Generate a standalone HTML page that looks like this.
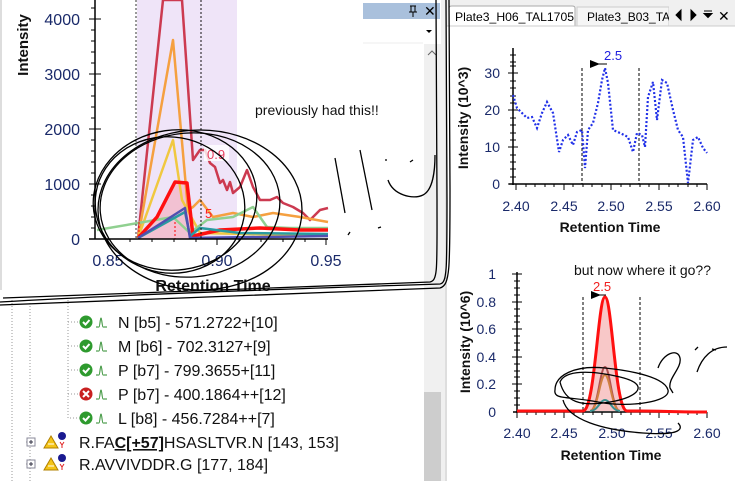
<!DOCTYPE html>
<html><head><meta charset="utf-8"><style>
html,body{margin:0;padding:0;background:#fff;}
svg{display:block;font-family:"Liberation Sans",Arial,sans-serif;}
</style></head><body>
<svg width="735" height="481" viewBox="0 0 735 481" xmlns="http://www.w3.org/2000/svg">
<rect width="735" height="481" fill="#fff"/>
<!-- left panel -->
<line x1="1" y1="0" x2="1" y2="290" stroke="#bbb"/>
<rect x="137" y="0" width="100" height="239" fill="#efe4f8"/>
<polygon points="139,239 157,217 175,182 187,183 193,239" fill="#f2b8c8" opacity="0.8"/>
<g fill="none" stroke-linejoin="round">
<polyline stroke="#cc3a50" stroke-width="2.5" points="138,238 163,0 182,0 193,160 200,150 205,150 210,163 215,167 220,183 223,180 227,190 230,182 233,193 240,187 247,170 253,187 260,200 270,200 277,197 283,203 293,207 303,213 310,220 320,210 328,208"/>
<polyline stroke="#f5a040" stroke-width="2.5" points="138,238 173,40 188,210 193,207 200,200 213,217 233,213 253,217 273,213 300,217 328,222"/>
<polyline stroke="#f0c840" stroke-width="2.5" points="138,238 173,140 182,200 200,233 328,236"/>
<polyline stroke="#90d090" stroke-width="2.5" points="97,230 138,223 173,217 190,233 207,220 233,217 253,207 267,227 290,228 328,228"/>
<polyline stroke="#ff1010" stroke-width="3.5" points="138,238 157,217 175,182 187,183 193,236 220,230 260,228 300,230 328,230"/>
<polyline stroke="#2a9aa0" stroke-width="2.5" points="138,238 185,212 190,236 200,228 240,233 328,234"/>
<polyline stroke="#5050b0" stroke-width="2.5" points="138,238 185,208 190,238 328,236"/>
</g>
<line x1="136" y1="0" x2="136" y2="239" stroke="#333" stroke-dasharray="2,2"/>
<line x1="201" y1="0" x2="201" y2="239" stroke="#111" stroke-dasharray="2,2"/>
<line x1="175" y1="222" x2="175" y2="239" stroke="#f00" stroke-dasharray="2,2"/>
<line x1="139" y1="222" x2="139" y2="239" stroke="#f00" stroke-dasharray="2,2"/>
<rect x="204" y="145" width="25" height="16" fill="#fff" opacity="0.8"/>
<text x="207" y="159" font-size="13" fill="#e84060">0.9</text>
<text x="205" y="218" font-size="13" fill="#ff2020">5</text>
<line x1="95" y1="0" x2="95" y2="239" stroke="#000" stroke-width="1.5"/>
<line x1="89" y1="239" x2="328" y2="239" stroke="#000" stroke-width="1.5"/>
<g stroke="#000">
<path d="M89 19h12M89 74h12M89 129h12M89 184h12M91 30h4M91 41h4M91 52h4M91 63h4M91 85h4M91 96h4M91 107h4M91 118h4M91 140h4M91 151h4M91 162h4M91 173h4M91 195h4M91 206h4M91 217h4M91 228h4M91 8h4"/>
<path d="M108 239v6M217 239v6M326 239v6M130 239v3M152 239v3M174 239v3M196 239v3M239 239v3M261 239v3M283 239v3M305 239v3"/>
</g>
<g font-size="16" fill="#1a2a6a" text-anchor="end">
<text x="80" y="25">4000</text><text x="80" y="80">3000</text><text x="80" y="135">2000</text><text x="80" y="190">1000</text><text x="80" y="245">0</text>
</g>
<g font-size="16" fill="#1a2a6a" text-anchor="middle">
<text x="108" y="266">0.85</text><text x="217" y="266">0.90</text><text x="326" y="266">0.95</text>
</g>
<text x="213" y="291" font-size="16" font-weight="bold" text-anchor="middle" fill="#111">Retention Time</text>
<text transform="translate(28,45) rotate(-90)" font-size="15" font-weight="bold" text-anchor="middle" fill="#111">Intensity</text>
<text x="255" y="115" font-size="14" fill="#111">previously had this!!</text>
<!-- docked header -->
<rect x="363" y="3" width="77" height="16" fill="#a9c0dc"/>
<path d="M410 6h6M411 6v6M415 6v6M409 12h8M413 12v5" stroke="#000" fill="none"/>
<text x="424" y="16" font-size="14" fill="#000">✕</text>
<path d="M426 30h6l-3 3z" fill="#000"/>
<line x1="363" y1="43" x2="423" y2="43" stroke="#eee"/>
<rect x="424" y="44" width="17" height="437" fill="#f0f0f0"/>
<path d="M428 55l4-4 4 4" stroke="#666" fill="none"/>
<rect x="424" y="392" width="17" height="89" fill="#cdcdcd"/>
<!-- tree -->
<g stroke="#999" stroke-dasharray="1,2" fill="none">
<path d="M12 300V481M30 300V481M68 300V418H80M68 322H80M68 346H80M68 370H80M68 394H80M30 442H26M30 464H26"/>
</g>
<g font-size="16" fill="#111">
<g>
<circle cx="86" cy="322" r="6.5" fill="#2e9a2e"/><path d="M83 322l2.5 2.5 4-4.5" stroke="#fff" stroke-width="2" fill="none"/>
<path d="M96 327h3c1 0 1-9 2-9s1 9 2 9h4" stroke="#2a8a2a" fill="none"/>
<text x="118" y="328">N [b5] - 571.2722+[10]</text>
</g>
<g>
<circle cx="86" cy="346" r="6.5" fill="#2e9a2e"/><path d="M83 346l2.5 2.5 4-4.5" stroke="#fff" stroke-width="2" fill="none"/>
<path d="M96 351h3c1 0 1-9 2-9s1 9 2 9h4" stroke="#2a8a2a" fill="none"/>
<text x="118" y="352">M [b6] - 702.3127+[9]</text>
</g>
<g>
<circle cx="86" cy="370" r="6.5" fill="#2e9a2e"/><path d="M83 370l2.5 2.5 4-4.5" stroke="#fff" stroke-width="2" fill="none"/>
<path d="M96 375h3c1 0 1-9 2-9s1 9 2 9h4" stroke="#2a8a2a" fill="none"/>
<text x="118" y="376">P [b7] - 799.3655+[11]</text>
</g>
<g>
<circle cx="86" cy="394" r="6.5" fill="#c82020"/><path d="M83 391l6 6M89 391l-6 6" stroke="#fff" stroke-width="2"/>
<path d="M96 399h3c1 0 1-9 2-9s1 9 2 9h4" stroke="#2a8a2a" fill="none"/>
<text x="118" y="400">P [b7] - 400.1864++[12]</text>
</g>
<g>
<circle cx="86" cy="418" r="6.5" fill="#2e9a2e"/><path d="M83 418l2.5 2.5 4-4.5" stroke="#fff" stroke-width="2" fill="none"/>
<path d="M96 423h3c1 0 1-9 2-9s1 9 2 9h4" stroke="#2a8a2a" fill="none"/>
<text x="118" y="424">L [b8] - 456.7284++[7]</text>
</g>
<g>
<rect x="27" y="438" width="8" height="8" fill="#fff" stroke="#889"/><path d="M29 442h4M31 440v4" stroke="#334"/>
<path d="M44 448l7-12 7 12z" fill="#f5c518" stroke="#b08000"/><path d="M48 444h6" stroke="#fff"/>
<circle cx="62" cy="436" r="4" fill="#1a1a90"/><path d="M60 442l2 3 2-3M62 445v3" stroke="#e02020" fill="none"/>
<text x="79" y="448">R.FA<tspan font-weight="bold" text-decoration="underline">C[+57]</tspan>HSASLTVR.N [143, 153]</text>
</g>
<g>
<rect x="27" y="460" width="8" height="8" fill="#fff" stroke="#889"/><path d="M29 464h4M31 462v4" stroke="#334"/>
<path d="M44 470l7-12 7 12z" fill="#f5c518" stroke="#b08000"/><path d="M48 466h6" stroke="#fff"/>
<circle cx="62" cy="458" r="4" fill="#1a1a90"/><path d="M60 464l2 3 2-3M62 467v3" stroke="#e02020" fill="none"/>
<text x="79" y="470">R.AVVIVDDR.G [177, 184]</text>
</g>
</g>
<!-- splitter -->
<rect x="441" y="0" width="6" height="481" fill="#f0f0f0"/>
<line x1="446" y1="0" x2="446" y2="481" stroke="#ccc"/>
<!-- right tabs -->
<rect x="447" y="0" width="288" height="26" fill="#f0f0f0"/>
<path d="M449 26V8q0-2 3-2h120q3 0 3 2V26" fill="#fff" stroke="#aaa"/>
<text x="455" y="21" font-size="12" fill="#000" textLength="119" lengthAdjust="spacingAndGlyphs">Plate3_H06_TAL1705</text>
<rect x="577" y="7" width="92" height="19" fill="#f5f5f5" stroke="#ccc"/>
<text x="587" y="21" font-size="12" fill="#000">Plate3_B03_TAL1</text>
<rect x="669" y="5" width="66" height="21" fill="#f0f0f0"/>
<path d="M681 10l-5 5 5 5zM691 10l5 5-5 5zM704 11h8M704 13.5l4 4 4-4z" fill="#000" stroke="#000" stroke-width="1"/>
<text x="718" y="21" font-size="14">✕</text>
<line x1="447" y1="26" x2="735" y2="26" stroke="#ccc"/>
<!-- top right chart -->
<line x1="513" y1="48" x2="513" y2="185" stroke="#000" stroke-width="1.5"/>
<line x1="509" y1="184" x2="707" y2="184" stroke="#000" stroke-width="1.5"/>
<g stroke="#000">
<path d="M508 73h10M508 110h10M508 147h10M508 184h10M510 55h6M510 62h6M510 66h6M510 81h6M510 88h6M510 96h6M510 103h6M510 118h6M510 125h6M510 133h6M510 140h6M510 155h6M510 162h6M510 169h6M510 177h6"/>
<path d="M516 184v6M564 184v6M611 184v6M659 184v6M707 184v6M526 184v3M535 184v3M545 184v3M554 184v3M573 184v3M583 184v3M592 184v3M602 184v3M621 184v3M630 184v3M640 184v3M649 184v3M669 184v3M678 184v3M688 184v3M697 184v3"/>
</g>
<g font-size="14" fill="#1a2a6a" text-anchor="end">
<text x="500" y="78">30</text><text x="500" y="115">20</text><text x="500" y="152">10</text><text x="500" y="189">0</text>
</g>
<g font-size="14" fill="#1a2a6a" text-anchor="middle">
<text x="516" y="211">2.40</text><text x="564" y="211">2.45</text><text x="611" y="211">2.50</text><text x="659" y="211">2.55</text><text x="707" y="211">2.60</text>
</g>
<text x="610" y="232" font-size="14" font-weight="bold" text-anchor="middle" fill="#111">Retention Time</text>
<text transform="translate(468,118) rotate(-90)" font-size="14" font-weight="bold" text-anchor="middle" fill="#111">Intensity (10^3)</text>
<line x1="582" y1="68" x2="582" y2="184" stroke="#000" stroke-dasharray="3,2"/>
<line x1="639" y1="68" x2="639" y2="184" stroke="#000" stroke-dasharray="3,2"/>
<polyline fill="none" stroke="#2030e8" stroke-width="2.2" stroke-dasharray="2,2" points="513,95 517,108 527,118 532,117 537,128 542,113 547,102 553,113 559,152 563,140 568,135 573,145 577,132 582,130 585,168 588,130 593,123 598,103 602,80 605,68 608,83 613,130 620,133 628,137 633,152 637,133 642,135 645,147 648,97 653,82 657,120 662,80 667,83 673,110 678,130 683,137 688,183 693,140 698,137 703,148 707,153"/>
<path d="M590 60l10 4-10 4z" fill="#000"/><line x1="590" y1="64" x2="607" y2="64" stroke="#000"/>
<text x="604" y="60" font-size="13" fill="#2020e0">2.5</text>
<!-- bottom right chart -->
<line x1="517" y1="272" x2="517" y2="413" stroke="#000" stroke-width="1.5"/>
<line x1="513" y1="412" x2="707" y2="412" stroke="#000" stroke-width="1.5"/>
<g stroke="#000">
<path d="M512 274h10M512 302h10M512 329h10M512 357h10M512 384h10M514 281h6M514 288h6M514 295h6M514 309h6M514 316h6M514 322h6M514 336h6M514 343h6M514 350h6M514 364h6M514 371h6M514 377h6M514 391h6M514 398h6M514 405h6"/>
<path d="M517 412v6M564 412v6M612 412v6M659 412v6M707 412v6M527 412v3M536 412v3M545 412v3M555 412v3M574 412v3M583 412v3M593 412v3M602 412v3M621 412v3M631 412v3M640 412v3M650 412v3M669 412v3M678 412v3M688 412v3M697 412v3"/>
</g>
<g font-size="14" fill="#1a2a6a" text-anchor="end">
<text x="496" y="279">1</text><text x="496" y="307">0.8</text><text x="496" y="334">0.6</text><text x="496" y="362">0.4</text><text x="496" y="389">0.2</text><text x="496" y="417">0</text>
</g>
<g font-size="14" fill="#1a2a6a" text-anchor="middle">
<text x="517" y="438">2.40</text><text x="564" y="438">2.45</text><text x="612" y="438">2.50</text><text x="659" y="438">2.55</text><text x="707" y="438">2.60</text>
</g>
<text x="611" y="460" font-size="14" font-weight="bold" text-anchor="middle" fill="#111">Retention Time</text>
<text transform="translate(470,342) rotate(-90)" font-size="14" font-weight="bold" text-anchor="middle" fill="#111">Intensity (10^6)</text>
<path d="M583 411C595 411 598 298 605 298S615 411 627 411Z" fill="#f8c8c8"/>
<line x1="583" y1="297" x2="583" y2="412" stroke="#000" stroke-dasharray="3,2"/>
<line x1="640" y1="297" x2="640" y2="412" stroke="#000" stroke-dasharray="3,2"/>
<g fill="none" stroke-width="2">
<path d="M590 411C598 411 600 367 605 367S612 411 620 411" stroke="#b05050"/>
<path d="M590 411C598 411 600 375 605 375S612 411 620 411" stroke="#d08040"/>
<path d="M590 411C598 411 600 400 605 400S612 411 620 411" stroke="#3a9090"/>
<path d="M517 411H583C595 411 598 297 605 297S615 411 627 411H640C660 411 680 412 707 412" stroke="#ff1010" stroke-width="3"/>
</g>
<path d="M591 291l10 4-10 4z" fill="#000"/><line x1="591" y1="295" x2="606" y2="295" stroke="#000"/>
<text x="593" y="291" font-size="13" fill="#f02020">2.5</text>
<text x="574" y="275" font-size="14" fill="#111">but now where it go??</text>
<!-- scribbles -->
<g fill="none" stroke="#000" stroke-width="1.3">
<ellipse cx="175" cy="200" rx="82" ry="70" transform="rotate(-8 175 200)"/>
<ellipse cx="190" cy="205" rx="90" ry="72" transform="rotate(-5 190 205)"/>
<ellipse cx="200" cy="210" rx="102" ry="80"/>
<ellipse cx="170" cy="205" rx="75" ry="68" transform="rotate(10 170 205)"/>
<path d="M335 158l10 55M360 150l12 60M385 160l2 0M410 162l3-2M388 180c5 15 25 20 35 15s12-25 12-40"/>
<path d="M350 232l-2 3M378 228l3-1"/>
<path d="M0 302C100 296 250 290 440 284C447 283 447 270 447 200L446 0"/>
<path d="M0 305C120 300 260 296 440 288C450 285 450 270 450 190L449 0"/>
<path d="M3 298C110 294 300 287 430 282C438 280 437 270 437 200L436 0"/>
<path d="M560 382c5-12 30-12 60-5s20 20 -10 25-45 0-50-20z"/>
<path d="M555 390c0-15 20-25 50-22s60 10 63 22-40 18-70 12-45-2-43-12z"/>
<path d="M563 400c5 20 40 30 80 33s40-5 35-10"/>
<path d="M658 368c5-15 20-20 22-10s-12 20-10 30l3 5M697 372c5-15 15-25 30-25"/>
<path d="M695 350l3-3M712 349l4 1"/>
</g>
</svg>
</body></html>
